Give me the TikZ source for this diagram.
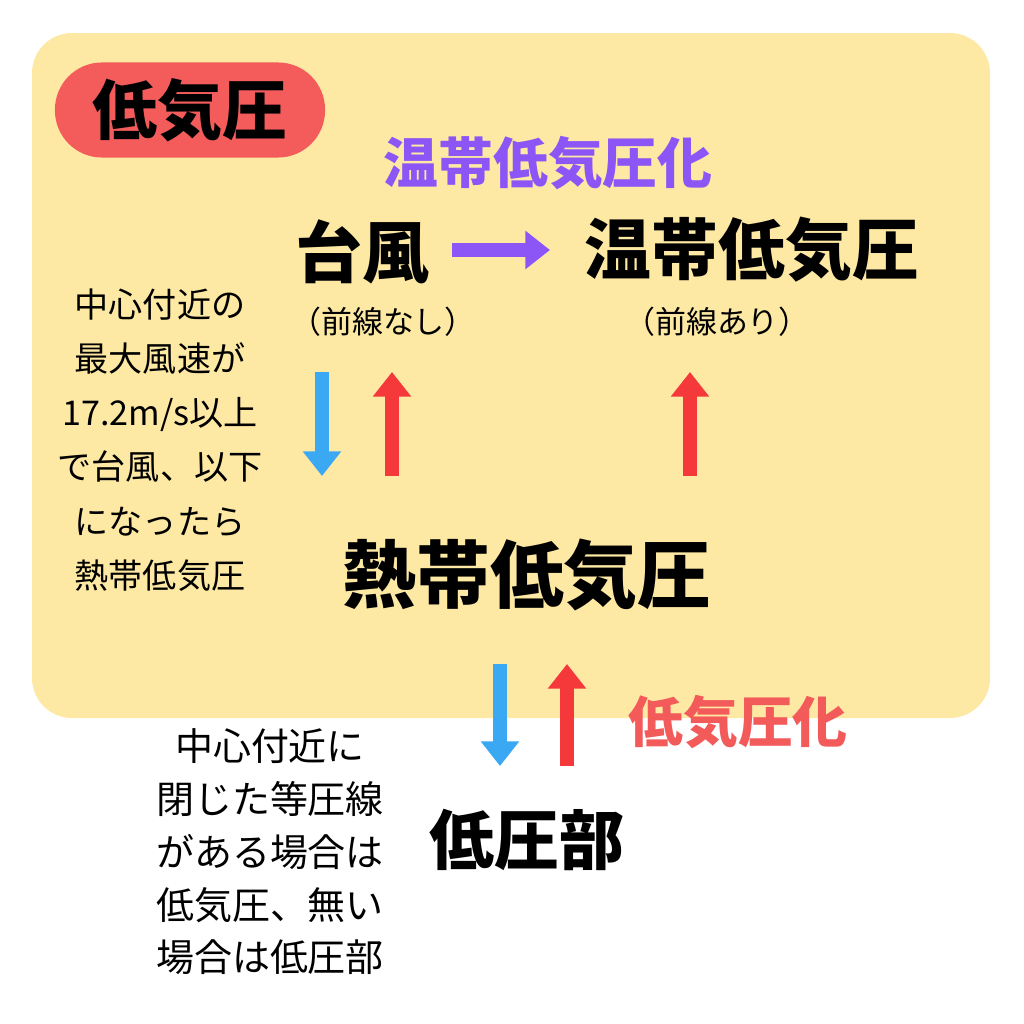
\documentclass[tikz,border=0pt]{standalone}
\usepackage{fontspec}
\setmainfont{Noto Sans CJK JP}
\usetikzlibrary{arrows.meta}
\definecolor{bgy}{HTML}{FDE9A4}
\definecolor{pill}{HTML}{F45B5B}
\definecolor{purp}{HTML}{8C55F5}
\definecolor{redar}{HTML}{F5393A}
\definecolor{bluar}{HTML}{3AA8F2}
\definecolor{redtx}{HTML}{F35A5A}
\tikzset{
 big/.style={font=\fontsize{19}{22}\selectfont\bfseries, inner sep=0pt},
 sub/.style={font=\fontsize{15.6}{18}\selectfont\bfseries, inner sep=0pt},
 note/.style={font=\fontsize{9.7}{15.4}\selectfont, align=center, inner sep=0pt},
 arr/.style={line width=4pt, -{Triangle[width=10.5pt,length=7pt]}},
}
\begin{document}
\begin{tikzpicture}[x=0.01cm,y=-0.01cm]
\useasboundingbox (0,0) rectangle (1024,1024);
\fill[white] (0,0) rectangle (1024,1024);
\fill[bgy, rounded corners=0.4cm] (32,33) rectangle (990,718);
\node[fill=pill, rounded corners=0.47cm, minimum width=2.7cm, minimum height=0.95cm, font=\fontsize{18.5}{20}\selectfont\bfseries] (pill) at (190,110) {低気圧};
\node[sub, text=purp] (onka) at (548,163) {温帯低気圧化};
\node[big] (taifu) at (362,252) {台風};
\node[big] (ontai) at (752,250) {温帯低気圧};
\node[font=\fontsize{8.8}{10}\selectfont, inner sep=0pt] (s1) at (383,322) {（前線なし）};
\node[font=\fontsize{8.8}{10}\selectfont, inner sep=0pt] (s2) at (717,322) {（前線あり）};
\node[note] (n1) at (160,440) {中心付近の\\最大風速が\\17.2m/s以上\\で台風、以下\\になったら\\熱帯低気圧};
\node[big, font=\fontsize{21}{24}\selectfont\bfseries] (nettai) at (527,575) {熱帯低気圧};
\node[sub, text=redtx] (teika) at (738,722) {低気圧化};
\node[big, font=\fontsize{18.5}{22}\selectfont\bfseries] (teiatsu) at (527,840) {低圧部};
\node[note, font=\fontsize{10.8}{15}\selectfont] (n2) at (270,852) {中心付近に\\閉じた等圧線\\がある場合は\\低気圧、無い\\場合は低圧部};
\coordinate (a1) at (452,250); \coordinate (a2) at (550,250);
\draw[arr, purp] (a1) -- (a2);
\coordinate (b1) at (322,372); \coordinate (b2) at (322,476);
\draw[arr, bluar] (b1) -- (b2);
\coordinate (c1) at (392,476); \coordinate (c2) at (392,372);
\draw[arr, redar] (c1) -- (c2);
\coordinate (d1) at (690,476); \coordinate (d2) at (690,372);
\draw[arr, redar] (d1) -- (d2);
\coordinate (e1) at (500,664); \coordinate (e2) at (500,766);
\draw[arr, bluar] (e1) -- (e2);
\coordinate (f1) at (567,766); \coordinate (f2) at (567,664);
\draw[arr, redar] (f1) -- (f2);
\end{tikzpicture}
\end{document}
